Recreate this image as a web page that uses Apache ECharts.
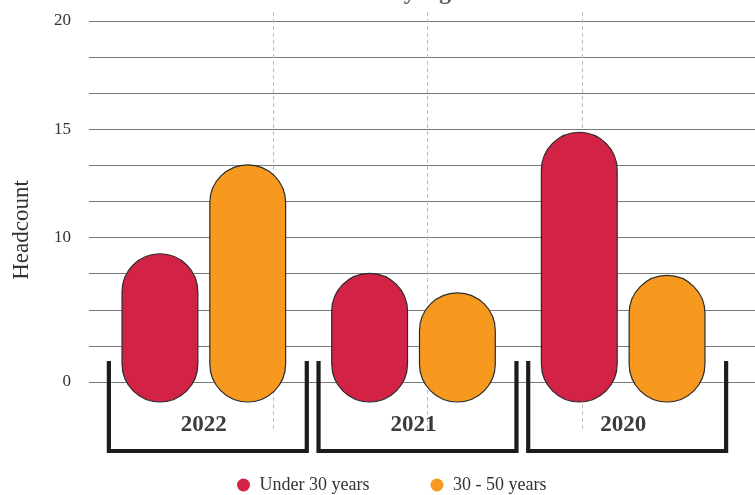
<!DOCTYPE html>
<html>
<head>
<meta charset="utf-8">
<script src="https://cdn.jsdelivr.net/npm/echarts@6/dist/echarts.min.js"></script>
<style>
  html, body { margin: 0; padding: 0; background: #fff; }
  #chart { width: 755px; height: 495px; }
</style>
</head>
<body>
<div id="chart"></div>
<script>
// data
const years = ['2022', '2021', '2020'];
const under30 = [9.3, 8.4, 14.9];
const age30to50 = [13.4, 7.5, 8.3];
const seriesNames = ['Under 30 years', '30 - 50 years'];
// the y labels sit on 11 evenly spaced grid rows
const yTickLabels = ['0', '', '', '', '10', '', '', '15', '', '', '20'];

// bars hang a little below the bottom grid row
const barAxisMin = 2.44;
const barAxisMax = 20;

const serif = "'Liberation Serif', 'DejaVu Serif', serif";
const colors = ['#D22246', '#F7991F'];

const chart = echarts.init(document.getElementById('chart'));

const option = {
  backgroundColor: '#fff',
  textStyle: { fontFamily: serif },
  title: {
    text: 'Headcount by Age',
    left: 362,
    top: -24,
    textAlign: 'center',
    textStyle: { fontFamily: serif, fontSize: 24, fontWeight: 'bold', color: '#5a5a5a' }
  },
  legend: {
    data: seriesNames,
    left: 232,
    top: 471,
    icon: 'circle',
    itemWidth: 22,
    itemHeight: 13,
    itemGap: 61,
    itemStyle: { borderWidth: 0 },
    textStyle: { fontFamily: serif, fontSize: 18, color: '#333' }
  },
  graphic: [
    {
      type: 'text',
      x: 22,
      y: 230,
      rotation: Math.PI / 2,
      style: {
        text: 'Headcount',
        align: 'center',
        verticalAlign: 'middle',
        fontFamily: serif,
        fontSize: 23,
        fill: '#333'
      }
    }
  ],
  grid: [
    // horizontal grid rows + labels
    { left: 89, right: 0, top: 21, bottom: 113 },
    // bars
    { left: 99, right: 27, top: 21, bottom: 93 },
    // dashed verticals
    { left: 118.5, right: 18.5, top: 12, bottom: 63 }
  ],
  xAxis: [
    { gridIndex: 0, type: 'value', show: false },
    {
      gridIndex: 1,
      type: 'category',
      data: years,
      axisLine: { show: false },
      axisTick: { show: false },
      axisLabel: {
        margin: 12,
        fontFamily: serif,
        fontSize: 23,
        fontWeight: 'bold',
        color: '#3b3b3b'
      }
    },
    {
      gridIndex: 2,
      type: 'value',
      min: 0,
      max: 4,
      interval: 1,
      axisLine: { show: false },
      axisTick: { show: false },
      axisLabel: { show: false },
      splitLine: {
        show: true,
        showMinLine: false,
        showMaxLine: false,
        lineStyle: { color: '#bdbdbd', type: [4, 3], width: 1 }
      }
    }
  ],
  yAxis: [
    {
      gridIndex: 0,
      type: 'value',
      min: 0,
      max: 10,
      interval: 1,
      axisLine: { show: false },
      axisTick: { show: false },
      axisLabel: {
        margin: 18,
        fontFamily: serif,
        fontSize: 17,
        color: '#333',
        formatter: v => yTickLabels[Math.round(v)]
      },
      splitLine: { lineStyle: { color: '#7a7a7a', width: 1 } }
    },
    {
      gridIndex: 1,
      type: 'value',
      min: barAxisMin,
      max: barAxisMax,
      show: false,
      splitLine: { show: false }
    },
    { gridIndex: 2, type: 'value', show: false, splitLine: { show: false } }
  ],
  series: [
    {
      name: seriesNames[0],
      type: 'bar',
      xAxisIndex: 1,
      yAxisIndex: 1,
      data: under30,
      barWidth: 77,
      barGap: '14%',
      itemStyle: { color: colors[0], borderColor: '#2a2a2a', borderWidth: 1.2, borderRadius: 40 }
    },
    {
      name: seriesNames[1],
      type: 'bar',
      xAxisIndex: 1,
      yAxisIndex: 1,
      data: age30to50,
      barWidth: 77,
      barGap: '14%',
      itemStyle: { color: colors[1], borderColor: '#2a2a2a', borderWidth: 1.2, borderRadius: 40 }
    },
    {
      // bracket under each year
      type: 'custom',
      xAxisIndex: 1,
      yAxisIndex: 1,
      silent: true,
      clip: false,
      data: years.map((y, i) => [i]),
      encode: { x: 0 },
      renderItem: function (params, api) {
        const c = api.coord([api.value(0), barAxisMin]);
        const half = api.size([1, 0])[0] * 0.472;
        const cx = c[0] + 4;
        const base = c[1];
        return {
          type: 'polyline',
          shape: {
            points: [
              [cx - half, base - 41],
              [cx - half, base + 49],
              [cx + half, base + 49],
              [cx + half, base - 41]
            ]
          },
          style: { fill: null, stroke: '#1c1c1c', lineWidth: 4.2, lineJoin: 'miter' }
        };
      }
    }
  ]
};

chart.setOption(option);
</script>
</body>
</html>
